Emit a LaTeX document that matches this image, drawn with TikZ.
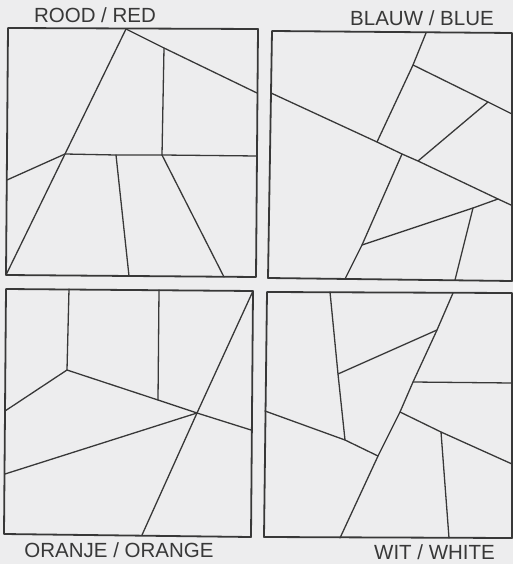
\documentclass[tikz,border=0pt]{standalone}
\usepackage{fontspec}
\setmainfont{Liberation Sans}
\definecolor{paper}{HTML}{EDEDEE}
\definecolor{ink}{HTML}{383838}
\begin{document}
\begin{tikzpicture}[x=1pt,y=-1pt,
  frame/.style={draw=ink,line width=1.8pt,line join=round},
  piece/.style={draw=ink,line width=1.3pt,line join=round,line cap=round},
  lab/.style={text=ink,inner sep=0pt,font=\fontsize{20.5}{24}\selectfont}]
\fill[paper] (0,0) rectangle (513,564);
\useasboundingbox (0,0) rectangle (513,564);

% ---------- ROOD / RED ----------
\coordinate (rTL) at (8,28);   \coordinate (rTR) at (258,29);
\coordinate (rBR) at (256,277); \coordinate (rBL) at (6,275);
\coordinate (rA) at (126,29);  \coordinate (rB) at (257,93);
\coordinate (rC) at (164,48);  \coordinate (rD) at (65,154);
\coordinate (rE) at (162,155); \coordinate (rF) at (257,156);
\coordinate (rG) at (7,180);   \coordinate (rH) at (116,155);
\coordinate (rHb) at (129,276); \coordinate (rEb) at (224,277);
\draw[frame] (rTL) -- (rTR) -- (rBR) -- (rBL) -- cycle;
\draw[piece] (rA) -- (rD) -- (rBL);
\draw[piece] (rA) -- (rC) -- (rB);
\draw[piece] (rC) -- (rE);
\draw[piece] (rD) -- (rH) -- (rE) -- (rF);
\draw[piece] (rG) -- (rD);
\draw[piece] (rH) -- (rHb);
\draw[piece] (rE) -- (rEb);
\node[lab] (tRed) at (95,15.5) {ROOD / RED};

% ---------- BLAUW / BLUE ----------
\coordinate (bTL) at (272,31);  \coordinate (bTR) at (512,33);
\coordinate (bBR) at (512,281); \coordinate (bBL) at (268,278);
\coordinate (b1) at (426,33);   \coordinate (b2) at (413,65);
\coordinate (b3) at (377,142);  \coordinate (bL) at (271,93);
\coordinate (b4) at (402,154);  \coordinate (b5) at (418,161);
\coordinate (b6) at (498,199);  \coordinate (bR) at (512,205.5);
\coordinate (b7) at (488,102);  \coordinate (bR2) at (512,114);
\coordinate (b8) at (362,245);  \coordinate (b8b) at (345,279);
\coordinate (b9) at (473,208);  \coordinate (b9b) at (455,280);
\draw[frame] (bTL) -- (bTR) -- (bBR) -- (bBL) -- cycle;
\draw[piece] (b1) -- (b2) -- (b3);
\draw[piece] (bL) -- (b3) -- (b4) -- (b5) -- (b6) -- (bR);
\draw[piece] (b2) -- (b7) -- (bR2);
\draw[piece] (b7) -- (b5);
\draw[piece] (b4) -- (b8) -- (b8b);
\draw[piece] (b8) -- (b9) -- (b6);
\draw[piece] (b9) -- (b9b);
\node[lab] (tBlue) at (422,18) {BLAUW / BLUE};

% ---------- ORANJE / ORANGE ----------
\coordinate (oTL) at (6,289);   \coordinate (oTR) at (253,291);
\coordinate (oBR) at (251,537); \coordinate (oBL) at (4,534);
\coordinate (o1) at (69,289);   \coordinate (oJ) at (67,370);
\coordinate (oL1) at (5,411);   \coordinate (o2) at (158,400);
\coordinate (o2t) at (159,290); \coordinate (oX) at (197,413);
\coordinate (oR) at (251,430);  \coordinate (oB) at (142,535);
\coordinate (oL2) at (5,474);
\draw[frame] (oTL) -- (oTR) -- (oBR) -- (oBL) -- cycle;
\draw[piece] (o1) -- (oJ);
\draw[piece] (oL1) -- (oJ) -- (o2) -- (oX) -- (oR);
\draw[piece] (o2t) -- (o2);
\draw[piece] (oTR) -- (oX) -- (oB);
\draw[piece] (oL2) -- (oX);
\node[lab] (tOrange) at (119,550) {ORANJE / ORANGE};

% ---------- WIT / WHITE ----------
\coordinate (wTL) at (267,292); \coordinate (wTR) at (512,293);
\coordinate (wBR) at (512,538); \coordinate (wBL) at (264,537);
\coordinate (w1) at (330,292);  \coordinate (w3) at (338,374);
\coordinate (w2) at (345,440);  \coordinate (w4) at (437,330);
\coordinate (wt) at (453,293);  \coordinate (w5) at (413,382);
\coordinate (w6) at (400,412);  \coordinate (w7) at (378,456);
\coordinate (wb) at (340,538);  \coordinate (wR1) at (512,383);
\coordinate (wL) at (265,411);  \coordinate (w8) at (441,432);
\coordinate (wR2) at (512,464); \coordinate (w8b) at (449,538);
\draw[frame] (wTL) -- (wTR) -- (wBR) -- (wBL) -- cycle;
\draw[piece] (w1) -- (w3) -- (w2);
\draw[piece] (w3) -- (w4);
\draw[piece] (wt) -- (w4) -- (w5) -- (w6) -- (w7) -- (wb);
\draw[piece] (w5) -- (wR1);
\draw[piece] (wL) -- (w2) -- (w7);
\draw[piece] (w6) -- (w8) -- (wR2);
\draw[piece] (w8) -- (w8b);
\node[lab] (tWhite) at (434.5,552.5) {WIT / WHITE};
\end{tikzpicture}
\end{document}
